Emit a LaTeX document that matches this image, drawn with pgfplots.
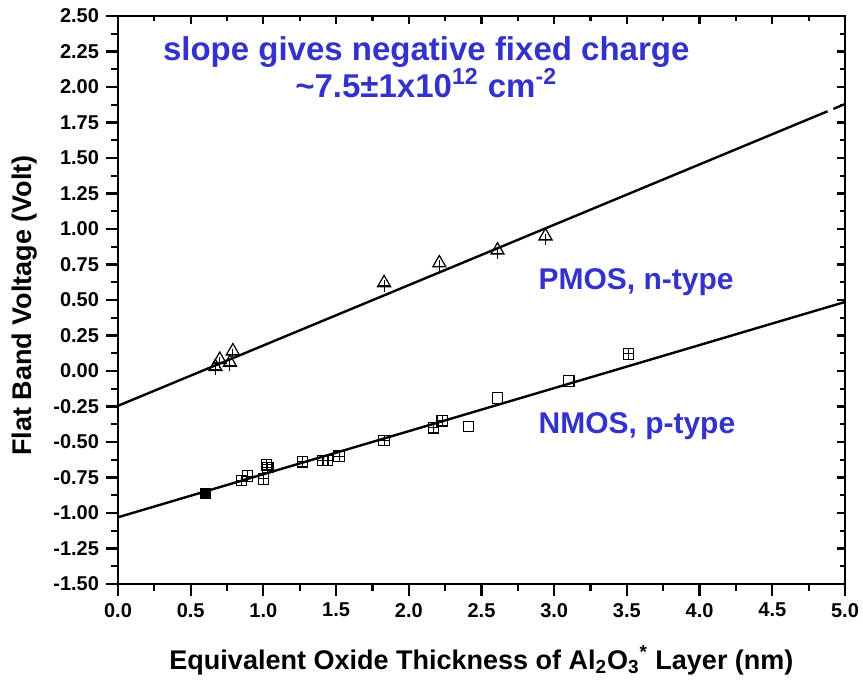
\documentclass[border=0pt]{standalone}
\usepackage{fontspec}
\setmainfont{Liberation Sans}
\usepackage{pgfplots}
\pgfplotsset{compat=1.18}
\definecolor{lblue}{RGB}{51,51,204}

\pgfplotsset{
  eotframe/.style={
    scale only axis, width=363.5pt, height=284pt,
    xmin=0, xmax=5, ymin=-1.5, ymax=2.5,
    xtick={0,0.5,1,1.5,2,2.5,3,3.5,4,4.5,5},
    ytick={-1.5,-1.25,-1,-0.75,-0.5,-0.25,0,0.25,0.5,0.75,1,1.25,1.5,1.75,2,2.25,2.5},
    minor x tick num=1, minor y tick num=1,
    axis line style={line width=1.4pt},
    every tick/.style={black, line width=1.1pt},
    clip=false,
  },
}

\begin{document}
\begin{tikzpicture}
\begin{axis}[
  eotframe,
  xtick pos=bottom, ytick pos=left, tick align=outside,
  major tick length=6pt, minor tick length=3.5pt,
  tick label style={font=\bfseries\fontsize{10}{12}\selectfont},
  /pgf/number format/assume math mode=true,
  xticklabel style={/pgf/number format/.cd, fixed, fixed zerofill, precision=1},
  yticklabel style={/pgf/number format/.cd, fixed, fixed zerofill, precision=2},
  xlabel={Equivalent Oxide Thickness of Al\textsubscript{2}O\textsubscript{3}\textsuperscript{*} Layer (nm)},
  ylabel={Flat Band Voltage (Volt)},
  label style={font=\bfseries\fontsize{13.5}{16}\selectfont},
  xlabel style={at={(axis description cs:0.5,-0.134)}, anchor=center},
  ylabel style={at={(axis description cs:-0.128,0.49)}, anchor=center},
]
% fitted lines
\addplot[black, line width=1.2pt] coordinates {(0,-0.245) (4.88,1.829)};
\addplot[black, line width=1.2pt] coordinates {(4.92,1.846) (5,1.880)};
\addplot[black, line width=1.2pt] coordinates {(0,-1.03) (5,0.486)};

% PMOS, n-type
\addplot[only marks, mark=triangle, mark size=3.8pt, mark options={black, line width=0.6pt}]
  coordinates {(0.67,0.03)(0.70,0.08)(0.77,0.06)(0.79,0.14)(1.83,0.62)(2.21,0.76)(2.61,0.85)(2.94,0.95)};
\addplot[only marks, mark=+, mark size=2.8pt, mark options={black, line width=0.5pt, yshift=-1.5pt}]
  coordinates {(0.67,0.03)(0.70,0.08)(0.77,0.06)(0.79,0.14)(1.83,0.62)(2.21,0.76)(2.61,0.85)(2.94,0.95)};

% NMOS, p-type
\addplot[only marks, mark=square*, mark size=2.6pt, mark options={black}]
  coordinates {(0.60,-0.86)};
\addplot[only marks, mark=square, mark size=2.6pt, mark options={black, line width=0.6pt}]
  coordinates {(0.85,-0.77)(0.89,-0.74)(1.00,-0.76)(1.02,-0.66)(1.03,-0.68)(1.27,-0.64)(1.41,-0.63)(1.44,-0.63)(1.52,-0.60)(1.83,-0.49)(2.17,-0.40)(2.23,-0.35)(2.41,-0.39)(2.61,-0.19)(3.10,-0.07)(3.51,0.12)};
\addplot[only marks, mark=+, mark size=2.6pt, mark options={black, line width=0.5pt}]
  coordinates {(0.85,-0.77)(0.89,-0.74)(1.00,-0.76)(1.02,-0.66)(1.03,-0.68)(1.27,-0.64)(1.41,-0.63)(1.44,-0.63)(1.52,-0.60)(1.83,-0.49)(2.17,-0.40)(2.23,-0.35)(3.51,0.12)};

\node[text=lblue, font=\bfseries\fontsize{16.5}{18.5}\selectfont, align=center]
  at (axis cs:2.12,2.14) {slope gives negative fixed charge\\\textasciitilde7.5±1x10\textsuperscript{12} cm\textsuperscript{-2}};
\node[text=lblue, font=\bfseries\fontsize{15}{18}\selectfont, anchor=west, inner sep=0pt]
  at (axis cs:2.89,0.627) {PMOS, n-type};
\node[text=lblue, font=\bfseries\fontsize{15}{18}\selectfont, anchor=west, inner sep=0pt]
  at (axis cs:2.89,-0.39) {NMOS, p-type};
\end{axis}

\begin{axis}[
  eotframe,
  xtick pos=top, ytick pos=right, tick align=inside,
  major tick length=4pt, minor tick length=2.5pt,
  xticklabels={}, yticklabels={},
]
\end{axis}

\pgfresetboundingbox
\useasboundingbox (-59pt,-49pt) rectangle (372.5pt,292pt);
\end{tikzpicture}
\end{document}
